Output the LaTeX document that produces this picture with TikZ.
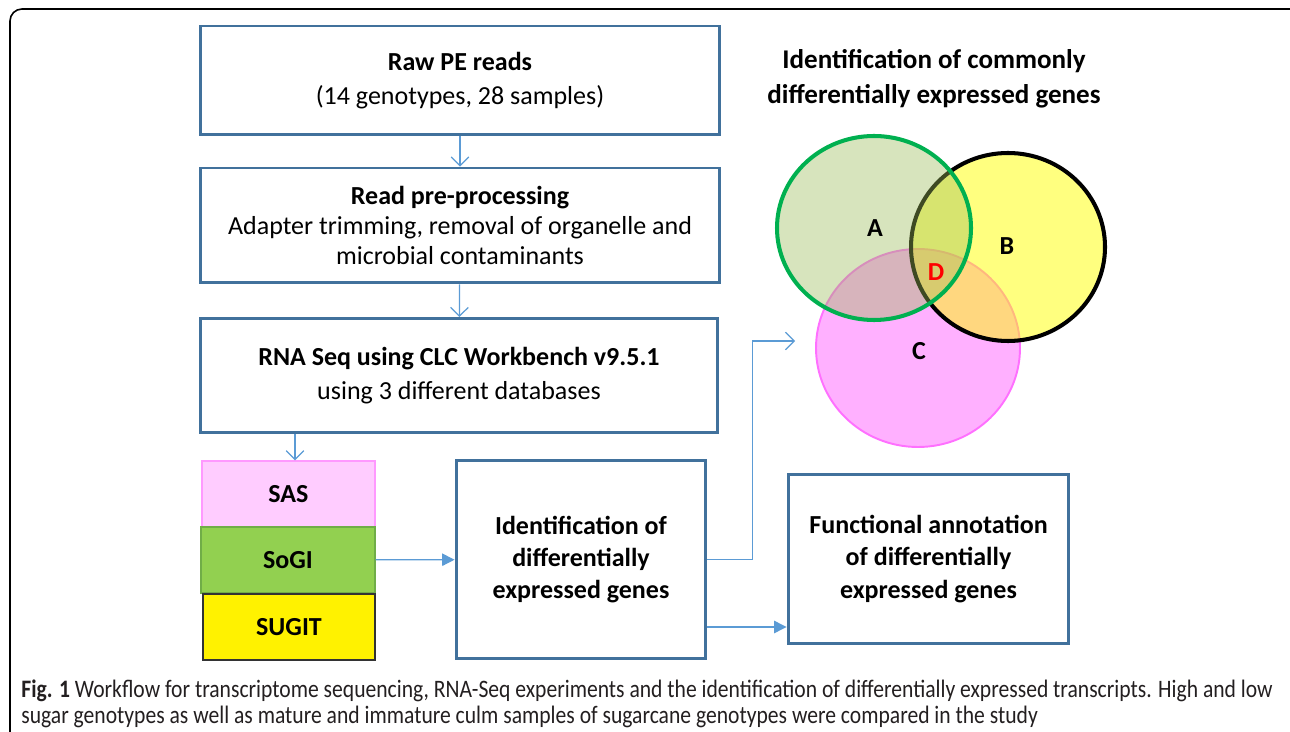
\documentclass[tikz,border=0pt]{standalone}
\usepackage{fontspec}
\setmainfont{Carlito}
\newfontfamily\capfont{Carlito}[FakeStretch=0.86]
\usetikzlibrary{arrows.meta,positioning}
\definecolor{boxblue}{HTML}{41719C}
\definecolor{arrowblue}{HTML}{5B9BD5}
\definecolor{sasfill}{HTML}{FFCCFF}
\definecolor{sasline}{HTML}{FF99FF}
\definecolor{sogifill}{HTML}{92D050}
\definecolor{sogiline}{HTML}{70AD47}
\definecolor{setA}{RGB}{155,187,89}
\definecolor{setAline}{HTML}{00B050}
\definecolor{setB}{HTML}{FFFF00}
\definecolor{setC}{HTML}{FFB0FF}
\definecolor{setCline}{HTML}{FF70FF}
\definecolor{captext}{HTML}{231F20}
\newcommand{\bxfont}{\fontsize{14.8}{19.3}\selectfont}
\tikzstyle{box} = [draw=boxblue, line width=1.7pt, align=center, inner sep=0pt, font=\bxfont]
\tikzstyle{db} = [minimum width=3.46cm, minimum height=1.32cm, inner sep=0pt, font=\bxfont\bfseries]
\tikzstyle{setlabel} = [font=\bxfont\bfseries]
\tikzstyle{arrow} = [draw=arrowblue, line width=0.7pt, -{Straight Barb[length=5pt,width=10pt]}]
\tikzstyle{farrow} = [draw=arrowblue, line width=0.7pt, -{Triangle[length=7pt,width=7pt]}]

\begin{document}
\begin{tikzpicture}[x=0.02cm, y=-0.02cm]
                    \useasboundingbox (0,0) rectangle (1290,732);
                    \clip (0,0) rectangle (1290,732);
                    \draw [line width=0.9pt, rounded corners=0.24cm] (10,9) rectangle (1302,744);
                    \node [box, minimum width=10.4cm, minimum height=2.18cm] (raw) at (460,80.5) {\textbf{Raw PE reads}\\(14 genotypes, 28 samples)};
                    \node [box, minimum width=10.4cm, minimum height=2.3cm, font=\fontsize{14.8}{17}\selectfont] (pre) at (460,225.5) {\textbf{Read pre-processing}\\Adapter trimming, removal of organelle and\\microbial contaminants};
                    \node [box, minimum width=10.36cm, minimum height=2.28cm] (rna) at (459,375.5) {\textbf{RNA Seq using CLC Workbench v9.5.1}\\using 3 different databases};
                    \node [db, fill=sasfill, draw=sasline, line width=0.8pt] (sas) at (288.5,494) {SAS};
                    \node [db, fill=sogifill, draw=sogiline, line width=0.8pt, minimum width=3.48cm] (sogi) at (288,560) {SoGI};
                    \node [db, fill=yellow, draw=black!80, line width=0.8pt, minimum width=3.44cm] (sugit) at (289,627) {SUGIT};
                    \node [box, minimum width=5cm, minimum height=3.98cm, font=\fontsize{14.8}{18.4}\selectfont\bfseries] (ident) at (581,559.5) {Identification of\\differentially\\expressed genes};
                    \node [box, minimum width=5.62cm, minimum height=3.38cm, font=\fontsize{14.8}{18.4}\selectfont\bfseries] (func) at (928.5,559) {Functional annotation\\of differentially\\expressed genes};
                    \node [align=center, font=\fontsize{15.4}{19.8}\selectfont\bfseries] (venntitle) at (934,78.5) {Identification of commonly\\differentially expressed genes};
                    \coordinate (venntip) at (795,341);
                    \draw [arrow] (raw) -- (pre);
                    \draw [arrow] (pre) -- (rna);
                    \draw [arrow] (rna.south -| 295,0) -- (sas.north -| 295,0);
                    \draw [farrow] (sogi) -- (ident);
                    \draw [arrow] (ident.east) -- ++(45,0) |- (venntip);
                    \draw [farrow] (ident.east |- sugit) -- (func.west |- sugit);
                    \fill [setC] (918,348) ellipse [x radius=102, y radius=99];
                    \draw [setCline, line width=1.1pt] (918,348) ellipse [x radius=102, y radius=99];
                    \fill [setB, fill opacity=0.5] (1008,247) ellipse [x radius=97, y radius=94];
                    \draw [black, line width=2.3pt] (1008,247) ellipse [x radius=97, y radius=94];
                    \fill [setA, fill opacity=0.4] (874,228) ellipse [x radius=97, y radius=92];
                    \draw [setAline, line width=2.3pt] (874,228) ellipse [x radius=97, y radius=92];
                    \node [setlabel] (labA) at (875,228) {A};
                    \node [setlabel] (labB) at (1007,246) {B};
                    \node [setlabel] (labC) at (919,351) {C};
                    \node [setlabel, red] (labD) at (936,272) {D};
                    \node [anchor=base west, inner sep=0pt, text=captext, font=\capfont\fontsize{14.3}{15}\selectfont] (cap1) at (21,697) {\textbf{Fig. 1} Workflow for transcriptome sequencing, RNA-Seq experiments and the identification of differentially expressed transcripts. High and low};
                    \node [anchor=base west, inner sep=0pt, text=captext, font=\capfont\fontsize{14.3}{15}\selectfont] (cap2) at (21,723) {sugar genotypes as well as mature and immature culm samples of sugarcane genotypes were compared in the study};
                \end{tikzpicture}
\end{document}
